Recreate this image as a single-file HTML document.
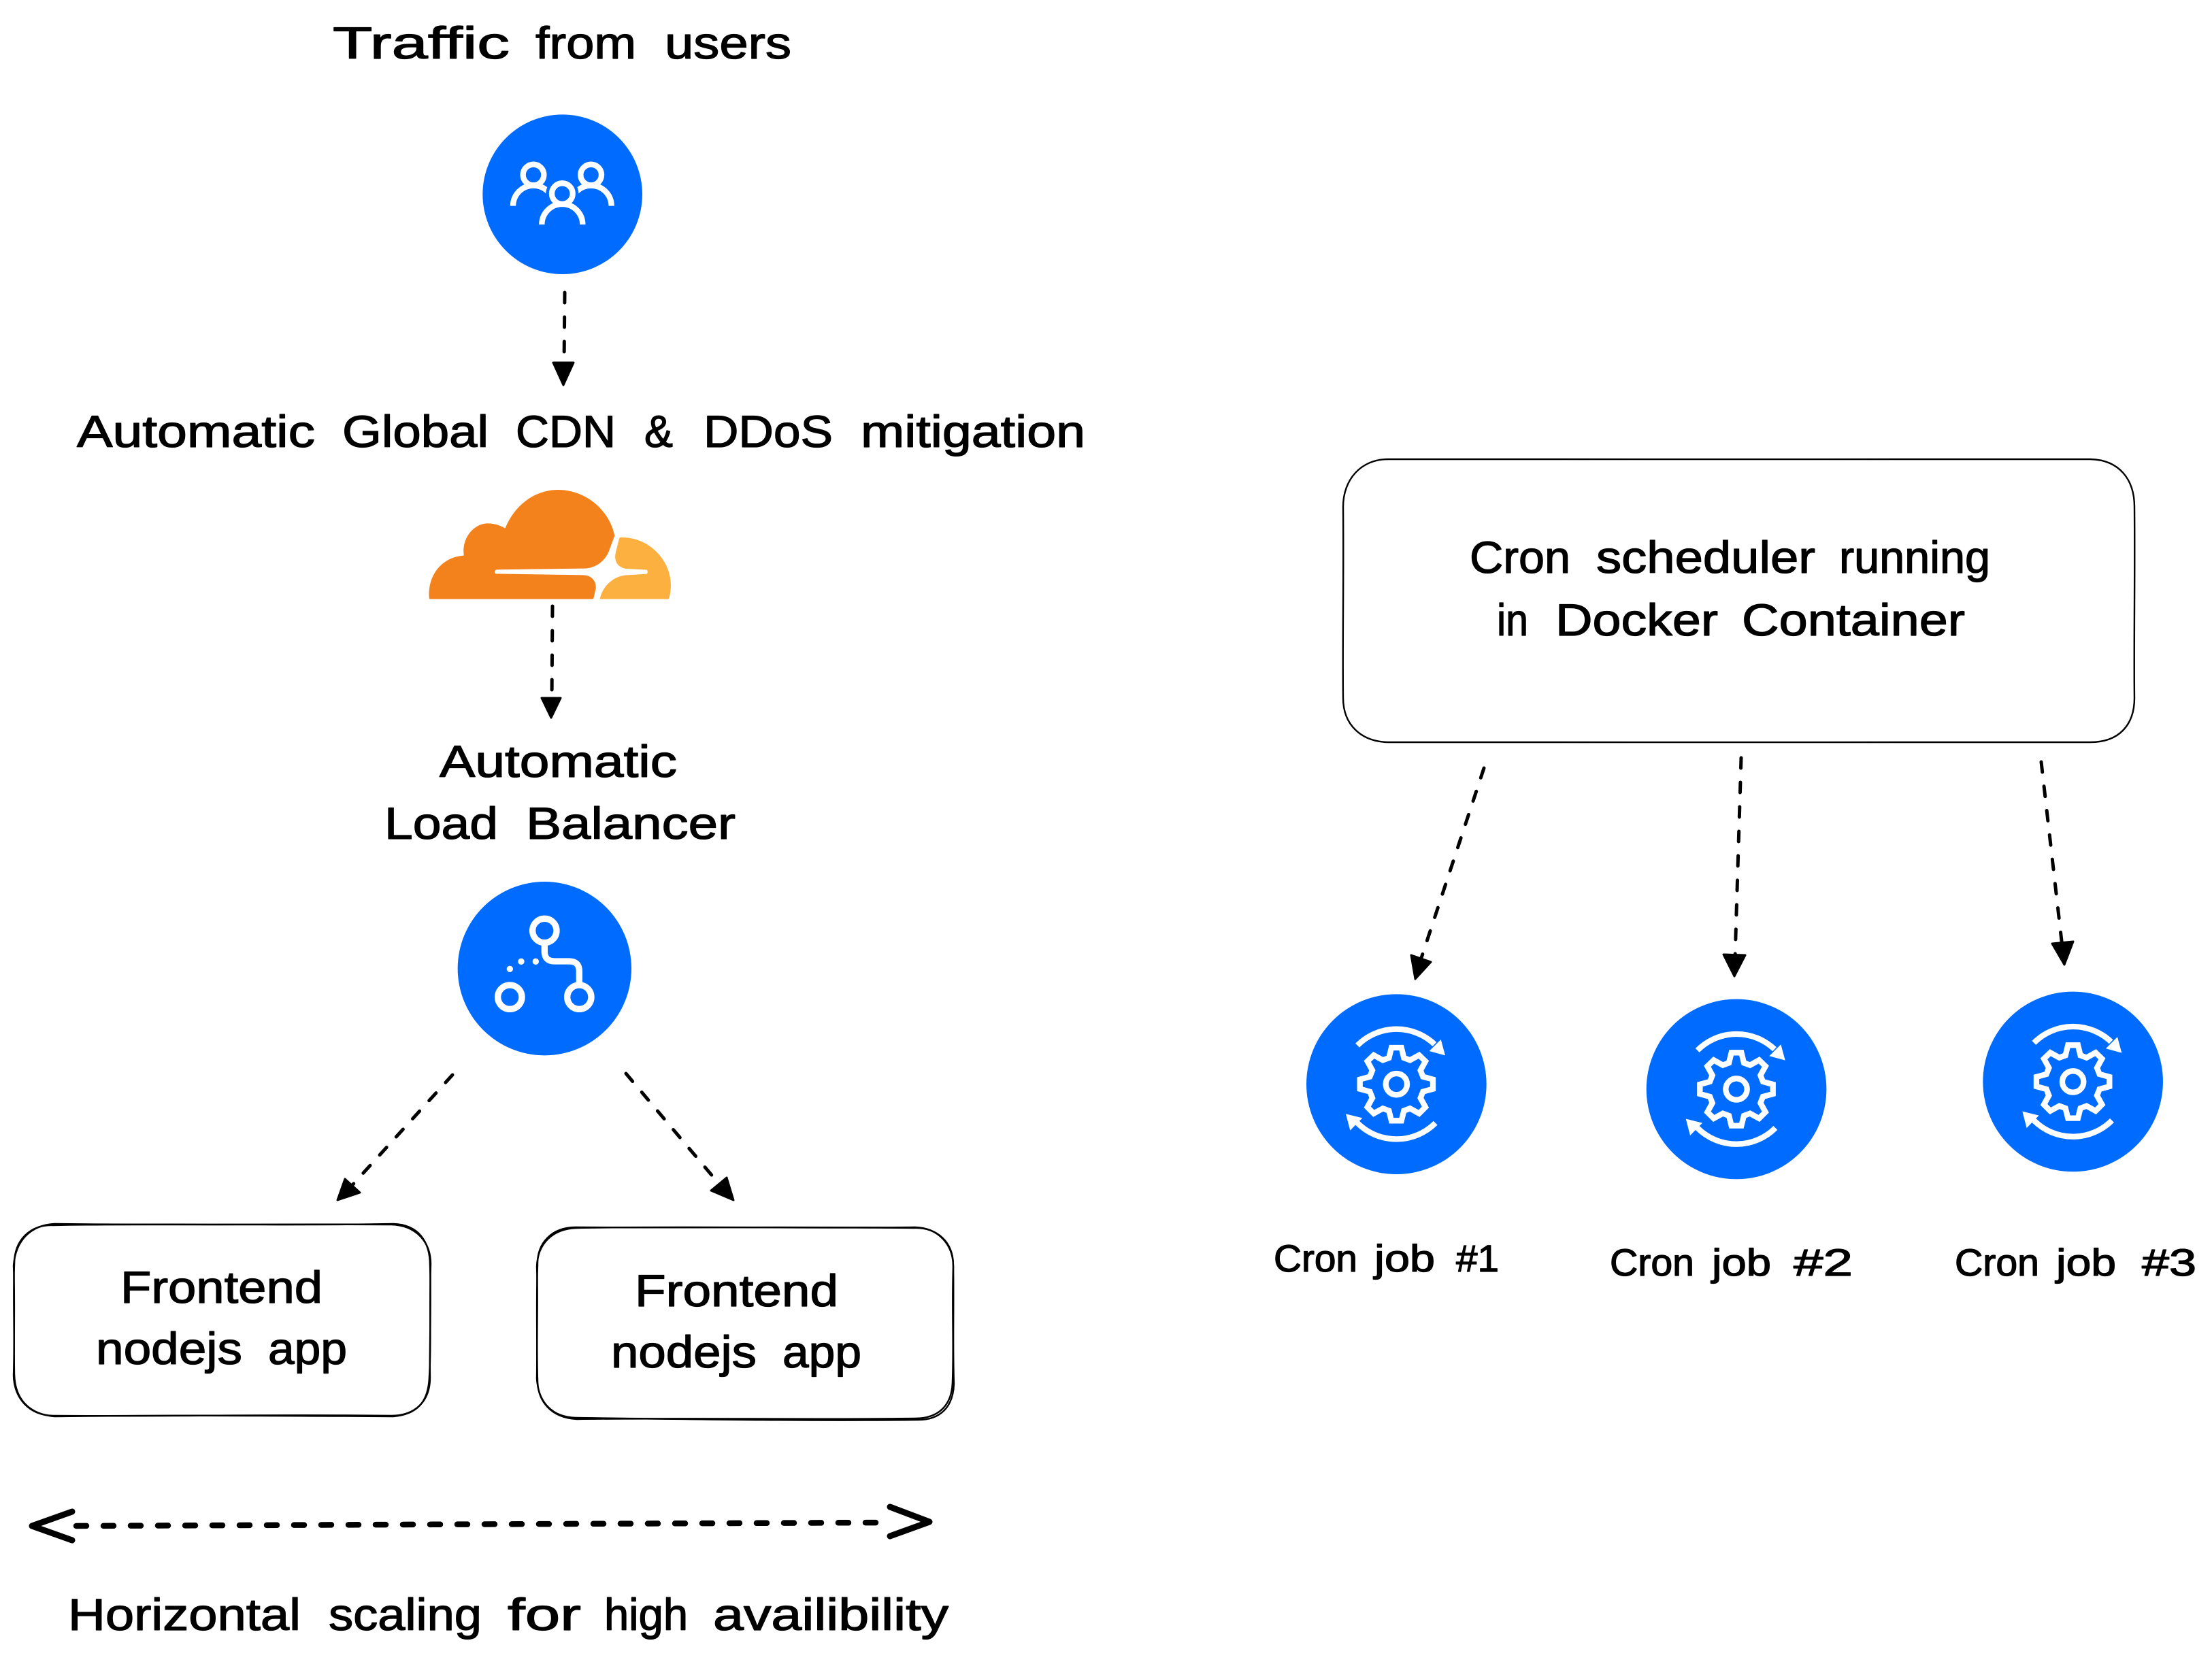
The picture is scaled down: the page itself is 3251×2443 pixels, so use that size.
<!DOCTYPE html>
<html><head><meta charset="utf-8"><style>
html,body{margin:0;padding:0;background:#fff;width:3251px;height:2443px;overflow:hidden}
svg{display:block}
text{font-family:"Liberation Sans","DejaVu Sans",sans-serif;fill:#000;stroke:#000;stroke-width:1.3px;stroke-linejoin:round}
.l{font-size:66px}
.s{font-size:56px}
.d{fill:none;stroke:#000;stroke-width:5;stroke-linecap:round;stroke-dasharray:15 21}
.h{fill:#000;stroke:#000;stroke-width:3;stroke-linejoin:round}
.b{fill:none;stroke:#000;stroke-width:2.4}
.w{fill:none;stroke:#fff;stroke-width:25}
</style></head><body>
<svg xmlns="http://www.w3.org/2000/svg" width="3251" height="2443" viewBox="0 0 3251 2443">
<rect width="3251" height="2443" fill="#fff"/>
<defs>
<g id="gear">
<circle cx="457" cy="461" r="397" fill="#006cff"/>
<polygon class="w" points="435,300 479,300 490,345 517,355 557,333 585,360 563,400 574,428 618,440 618,482 574,494 563,522 585,562 557,590 517,568 490,578 479,622 435,622 424,578 397,568 357,590 329,562 351,522 340,494 296,482 296,440 340,428 351,400 329,360 357,333 397,355 424,345"/>
<circle class="w" cx="457" cy="461" r="47"/>
<path class="w" d="M285,290 A243,243 0 0 1 625,285"/>
<path class="w" d="M629,632 A243,243 0 0 1 285,632"/>
<polygon fill="#fff" points="672,334 653,264 602,315"/>
<polygon fill="#fff" points="234,592 253,665 307,610"/>
</g>
</defs>

<!-- users circle -->
<g transform="translate(690 160) scale(.33333)">
<circle cx="410" cy="377" r="352" fill="#006cff"/>
<path class="w" d="M192,428 A90,90 0 0 1 372,428"/>
<path class="w" d="M446,428 A90,90 0 0 1 626,428"/>
<circle class="w" cx="282" cy="291" r="46"/>
<circle class="w" cx="536" cy="291" r="46"/>
<path d="M319,510 A90,90 0 0 1 499,510" fill="none" stroke="#006cff" stroke-width="52"/>
<circle cx="409" cy="374" r="72" fill="#006cff"/>
<path class="w" d="M319,510 A90,90 0 0 1 499,510"/>
<circle class="w" cx="409" cy="374" r="46"/>
</g>

<!-- cloudflare -->
<g transform="translate(610 700) scale(.33333)">
<path fill="#f4821c" d="M68,542 Q62,542 62,535 C55,430 125,355 215,350 C205,265 265,208 320,208 C350,208 375,216 397,230 C440,125 530,60 630,60 C750,60 855,145 880,262 L855,330 C835,380 790,407 745,407 L358,412 Q345,420 356,430 L745,436 C780,438 800,465 797,495 L788,535 Q786,542 780,542 Z"/>
<path fill="#fbb040" d="M905,270 C1030,265 1128,370 1128,480 Q1128,510 1120,538 Q1118,542 1112,542 L820,542 Q814,542 816,536 C830,480 880,438 935,436 L1020,431 Q1030,425 1022,413 L935,408 C895,405 875,375 885,335 L900,275 Q902,270 905,270 Z"/>
</g>

<!-- LB circle -->
<g transform="translate(660 1280) scale(.33333)">
<circle cx="421" cy="431" r="383" fill="#006cff"/>
<circle cx="421" cy="264" r="53" fill="none" stroke="#fff" stroke-width="28"/>
<circle cx="268" cy="557" r="53" fill="none" stroke="#fff" stroke-width="28"/>
<circle cx="574" cy="557" r="53" fill="none" stroke="#fff" stroke-width="28"/>
<path d="M421,320 V355 Q421,399 465,399 H530 Q574,399 574,443 V500" fill="none" stroke="#fff" stroke-width="28"/>
<circle cx="382" cy="400" r="14" fill="#fff"/>
<circle cx="318" cy="400" r="14" fill="#fff"/>
<circle cx="268" cy="433" r="14" fill="#fff"/>
</g>

<!-- gears -->
<use href="#gear" transform="translate(1900 1440) scale(.33333)"/>
<use href="#gear" transform="translate(2399.7 1447.3) scale(.33333)"/>
<use href="#gear" transform="translate(2894.3 1436.3) scale(.33333)"/>

<!-- boxes -->
<path class="b" d="M78,1801 C240,1798 430,1802 578,1799 C615,1800 632,1825 632,1860 C634,1920 631,1980 632,2025 C632,2060 610,2081 575,2081 C420,2079 240,2082 78,2081 C42,2080 21,2055 20,2022 C22,1960 19,1910 21,1858 C21,1822 45,1800 78,1801 Z"/>
<path class="b" d="M80,1799 C240,1801 430,1799 575,1800 C612,1801 633,1826 633,1858 C631,1920 634,1980 631,2023 C630,2062 612,2079 578,2082 C420,2081 240,2080 80,2082 C44,2079 22,2058 21,2020 C20,1960 22,1910 20,1860 C23,1824 44,1801 80,1799 Z"/>
<path class="b" d="M848,1805 C1000,1802 1200,1806 1345,1804 C1380,1805 1401,1830 1401,1862 C1399,1920 1402,1980 1400,2029 C1400,2065 1380,2085 1345,2085 C1200,2087 1000,2084 848,2086 C810,2084 790,2060 790,2028 C788,1970 791,1910 789,1862 C790,1828 812,1806 848,1805 Z"/>
<path class="b" d="M846,1804 C1000,1805 1200,1803 1343,1805 C1378,1804 1401,1826 1401,1860 C1402,1920 1400,1980 1402,2034 C1401,2068 1382,2088 1347,2087 C1200,2089 1000,2086 846,2084 C812,2083 791,2062 789,2026 C790,1970 788,1910 790,1860 C789,1826 812,1804 846,1804 Z"/>
<path class="b" d="M2040,675 C2300,674 2800,676 3072,675 C3115,676 3137,705 3137,745 C3138,850 3136,950 3137,1026 C3137,1065 3115,1091 3072,1091 C2800,1092 2300,1090 2040,1091 C2000,1090 1974,1065 1974,1026 C1973,950 1975,850 1974,745 C1974,705 2000,675 2040,675 Z"/>

<!-- arrows -->
<path class="d" d="M830,430 L829,536"/>
<polygon class="h" points="828,566 813,533 843,533"/>
<path class="d" d="M812,891 L811,1028"/>
<polygon class="h" points="810,1055 796,1026 824,1026"/>
<path class="d" d="M665,1580 L516,1744"/>
<polygon class="h" points="496,1764 507,1733 529,1753"/>
<path class="d" d="M920,1578 L1060,1744"/>
<polygon class="h" points="1078,1764 1045,1750 1068,1731"/>
<path class="d" d="M2181,1129 L2087,1414"/>
<polygon class="h" points="2080,1439 2074,1404 2103,1414"/>
<path class="d" d="M2559,1114 L2550,1408"/>
<polygon class="h" points="2549,1435 2533,1403 2565,1404"/>
<path class="d" d="M3000,1120 L3031,1392"/>
<polygon class="h" points="3034,1418 3016,1387 3047,1384"/>

<path d="M112,2243 L1304,2238" fill="none" stroke="#000" stroke-width="8.5" stroke-linecap="round" stroke-dasharray="15 25"/>
<path d="M106,2222 L47,2243 L106,2264" fill="none" stroke="#000" stroke-width="9" stroke-linecap="round" stroke-linejoin="round"/>
<path d="M1308,2215 L1366,2237 L1308,2258" fill="none" stroke="#000" stroke-width="9" stroke-linecap="round" stroke-linejoin="round"/>

<!-- labels -->
<g class="l">
<text x="489" y="86" textLength="260" lengthAdjust="spacingAndGlyphs">Traffic</text>
<text x="787" y="86" textLength="148" lengthAdjust="spacingAndGlyphs">from</text>
<text x="977" y="86" textLength="186" lengthAdjust="spacingAndGlyphs">users</text>

<text x="113" y="657" textLength="350" lengthAdjust="spacingAndGlyphs">Automatic</text>
<text x="503" y="657" textLength="215" lengthAdjust="spacingAndGlyphs">Global</text>
<text x="758" y="657" textLength="147" lengthAdjust="spacingAndGlyphs">CDN</text>
<text x="947" y="657" textLength="42" lengthAdjust="spacingAndGlyphs">&amp;</text>
<text x="1034" y="657" textLength="190" lengthAdjust="spacingAndGlyphs">DDoS</text>
<text x="1265" y="657" textLength="330" lengthAdjust="spacingAndGlyphs">mitigation</text>

<text x="646" y="1142" textLength="349" lengthAdjust="spacingAndGlyphs">Automatic</text>
<text x="565" y="1233" textLength="167" lengthAdjust="spacingAndGlyphs">Load</text>
<text x="773" y="1233" textLength="308" lengthAdjust="spacingAndGlyphs">Balancer</text>

<text x="177" y="1915" textLength="297" lengthAdjust="spacingAndGlyphs">Frontend</text>
<text x="141" y="2005" textLength="215" lengthAdjust="spacingAndGlyphs">nodejs</text>
<text x="394" y="2005" textLength="116" lengthAdjust="spacingAndGlyphs">app</text>
<text x="933" y="1920" textLength="299" lengthAdjust="spacingAndGlyphs">Frontend</text>
<text x="898" y="2010" textLength="214" lengthAdjust="spacingAndGlyphs">nodejs</text>
<text x="1150" y="2010" textLength="116" lengthAdjust="spacingAndGlyphs">app</text>

<text x="100" y="2396" textLength="342" lengthAdjust="spacingAndGlyphs">Horizontal</text>
<text x="483" y="2396" textLength="225" lengthAdjust="spacingAndGlyphs">scaling</text>
<text x="746" y="2396" textLength="108" lengthAdjust="spacingAndGlyphs">for</text>
<text x="888" y="2396" textLength="123" lengthAdjust="spacingAndGlyphs">high</text>
<text x="1048" y="2396" textLength="346" lengthAdjust="spacingAndGlyphs">availibility</text>

<text x="2160" y="842" textLength="148" lengthAdjust="spacingAndGlyphs">Cron</text>
<text x="2346" y="842" textLength="322" lengthAdjust="spacingAndGlyphs">scheduler</text>
<text x="2703" y="842" textLength="222" lengthAdjust="spacingAndGlyphs">running</text>
<text x="2200" y="934" textLength="46" lengthAdjust="spacingAndGlyphs">in</text>
<text x="2286" y="934" textLength="239" lengthAdjust="spacingAndGlyphs">Docker</text>
<text x="2560" y="934" textLength="328" lengthAdjust="spacingAndGlyphs">Container</text>
</g>
<g class="s">
<text x="1872" y="1869" textLength="123" lengthAdjust="spacingAndGlyphs">Cron</text>
<text x="2020" y="1869" textLength="89" lengthAdjust="spacingAndGlyphs">job</text>
<text x="2140" y="1869" textLength="63" lengthAdjust="spacingAndGlyphs">#1</text>
<text x="2366" y="1875" textLength="124" lengthAdjust="spacingAndGlyphs">Cron</text>
<text x="2516" y="1875" textLength="87" lengthAdjust="spacingAndGlyphs">job</text>
<text x="2636" y="1875" textLength="87" lengthAdjust="spacingAndGlyphs">#2</text>
<text x="2873" y="1875" textLength="124" lengthAdjust="spacingAndGlyphs">Cron</text>
<text x="3022" y="1875" textLength="88" lengthAdjust="spacingAndGlyphs">job</text>
<text x="3148" y="1875" textLength="80" lengthAdjust="spacingAndGlyphs">#3</text>
</g>
</svg>
</body></html>
